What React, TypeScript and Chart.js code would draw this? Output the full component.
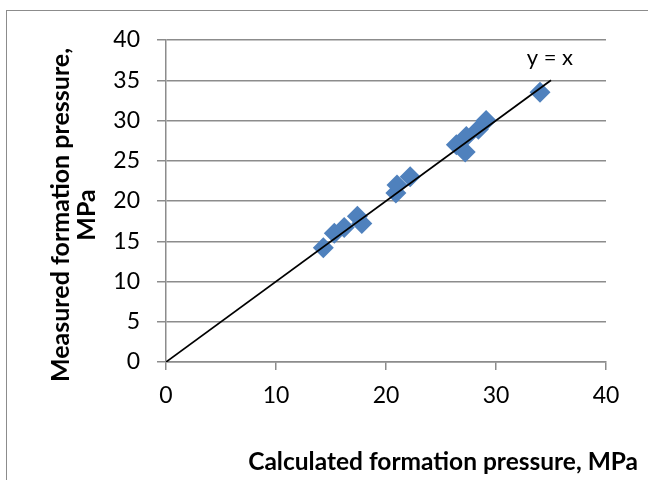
import React, { useEffect, useRef } from "react";
import { Chart, registerables } from "chart.js";

Chart.register(...registerables);

const calculated = [14.3, 15.3, 16.2, 17.4, 17.8, 20.9, 21.0, 22.2, 26.4, 27.2, 27.3, 28.4, 29.1, 34.0];
const measured = [14.2, 16.0, 16.7, 18.1, 17.2, 21.0, 22.0, 23.0, 27.0, 26.1, 28.0, 28.9, 30.0, 33.5];
const lineX = [0, 35];
const lineY = [0, 35];
const xTitle = "Calculated formation pressure, MPa";
const yTitleLines = ["Measured formation pressure,", "MPa"];
const lineLabel = "y = x";

const FONT = "Lato, 'Open Sans', sans-serif";

const titlesPlugin = {
  id: "titlesPlugin",
  afterDraw(chart: any) {
    const ctx = chart.ctx;
    const xs = chart.scales.x;
    const ys = chart.scales.y;
    ctx.save();
    ctx.fillStyle = "#000";
    // y = x label
    ctx.font = `22px ${FONT}`;
    ctx.textAlign = "center";
    ctx.textBaseline = "middle";
    ctx.fillText(lineLabel, xs.getPixelForValue(34.9), ys.getPixelForValue(37.8));
    // x title
    ctx.font = `bold 24.5px ${FONT}`;
    ctx.textAlign = "right";
    ctx.fillText(xTitle, 638, 462);
    // y title
    ctx.font = `bold 25px ${FONT}`;
    ctx.save();
    ctx.translate(61, 215);
    ctx.rotate(-Math.PI / 2);
    ctx.textAlign = "center";
    ctx.fillText(yTitleLines[0], 0, 0);
    ctx.fillText(yTitleLines[1], 0, 26);
    ctx.restore();
    ctx.restore();
  },
};

export default function App() {
  const ref = useRef<HTMLCanvasElement>(null);
  useEffect(() => {
    if (!ref.current) return;
    const gray = "#8c8c8c";
    const chart = new Chart(ref.current, {
      type: "scatter",
      data: {
        datasets: [
          {
            type: "line",
            data: lineX.map((x, i) => ({ x, y: lineY[i] })),
            borderColor: "#000",
            borderWidth: 1.75,
            pointRadius: 0,
            fill: false,
            order: 0,
          } as any,
          {
            data: calculated.map((x, i) => ({ x, y: measured[i] })),
            backgroundColor: "#4F81BD",
            borderColor: "#4F81BD",
            borderWidth: 0,
            pointStyle: "rectRot",
            pointRadius: 10.5,
            order: 1,
          },
        ],
      },
      options: {
        responsive: false,
        animation: false,
        layout: { padding: { left: 0, top: 40, right: 42, bottom: 0 } },
        plugins: { legend: { display: false }, tooltip: { enabled: false } },
        scales: {
          x: {
            type: "linear",
            min: 0,
            max: 40,
            ticks: { stepSize: 10, color: "#000", font: { family: FONT, size: 23 }, padding: 12 },
            grid: { drawOnChartArea: false, drawTicks: true, tickLength: 8, color: gray, lineWidth: 1.5 },
            border: { color: gray, width: 1.5 },
            afterFit: (s: any) => { s.height = 118; },
          },
          y: {
            type: "linear",
            min: 0,
            max: 40,
            ticks: { stepSize: 5, color: "#000", font: { family: FONT, size: 23 }, padding: 17 },
            grid: { drawOnChartArea: true, drawTicks: true, tickLength: 9, color: gray, lineWidth: 1.5 },
            border: { color: gray, width: 1.5 },
            afterFit: (s: any) => { s.width = 166; },
          },
        },
      },
      plugins: [titlesPlugin],
    });
    return () => chart.destroy();
  }, []);
  return (
    <div style={{ position: "fixed", left: 0, top: 0, width: 648, height: 480, background: "#fff", overflow: "hidden" }}>
      <div style={{ position: "absolute", left: 6, top: 10, width: 700, height: 500, border: "1.5px solid #8c8c8c", boxSizing: "border-box" }} />
      <canvas ref={ref} width={648} height={480} style={{ position: "absolute", left: 0, top: 0 }} />
    </div>
  );
}
